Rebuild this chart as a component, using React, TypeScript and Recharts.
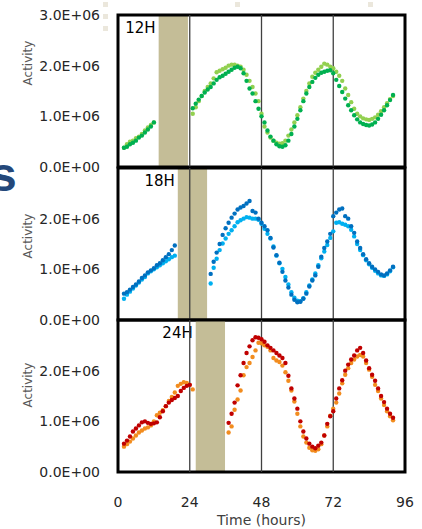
import React from "react";
import { ScatterChart, Scatter, XAxis, YAxis, ReferenceArea, ReferenceLine } from "recharts";

// sampling times (hours)
const hoursFrom = (start: number, count: number) => Array.from({ length: count }, (_, i) => start + i);
const HOUR_TICKS = [0, 24, 48, 72, 96];

// activity values, in units of 1.0E+06
// 12H panel
const DARK_12_EARLY = [0.38, 0.40, 0.45, 0.48, 0.52, 0.58, 0.62, 0.68, 0.74, 0.80, 0.88];
const LIGHT_12_EARLY = [0.38, 0.45, 0.50, 0.52, 0.57, 0.60, 0.65, 0.72, 0.78, 0.83, 0.88];
const DARK_12_LATE = [
  1.16, 1.25, 1.33, 1.40, 1.47, 1.53, 1.58, 1.65, 1.72, 1.77,
  1.80, 1.84, 1.88, 1.92, 1.96, 1.98, 1.95, 1.85, 1.70, 1.55,
  1.45, 1.30, 1.15, 1.00, 0.88, 0.72, 0.60, 0.52, 0.45, 0.41,
  0.40, 0.43, 0.52, 0.65, 0.80, 0.95, 1.12, 1.30, 1.45, 1.58,
  1.68, 1.76, 1.82, 1.86, 1.88, 1.90, 1.91, 1.85, 1.72, 1.60,
  1.48, 1.35, 1.22, 1.12, 1.02, 0.94, 0.88, 0.85, 0.83, 0.82,
  0.84, 0.88, 0.95, 1.03, 1.12, 1.22, 1.32, 1.42,
];
const LIGHT_12_LATE = [
  1.05, 1.18, 1.30, 1.40, 1.50, 1.58, 1.65, 1.75, 1.87, 1.90,
  1.93, 1.96, 2.00, 2.02, 2.02, 2.00, 1.98, 1.92, 1.82, 1.70,
  1.58, 1.45, 1.30, 1.05, 0.80, 0.68, 0.58, 0.52, 0.48, 0.46,
  0.47, 0.52, 0.62, 0.74, 0.88, 1.02, 1.18, 1.35, 1.50, 1.65,
  1.78, 1.86, 1.92, 1.98, 2.04, 2.02, 1.98, 1.95, 1.88, 1.80,
  1.70, 1.55, 1.42, 1.28, 1.15, 1.05, 1.00, 0.96, 0.94, 0.93,
  0.95, 0.98, 1.03, 1.10, 1.18, 1.26, 1.34, 1.40,
];

// 18H panel
const DARK_18_EARLY = [0.52, 0.55, 0.60, 0.65, 0.70, 0.76, 0.83, 0.88, 0.94, 0.98, 1.02, 1.08, 1.12, 1.18, 1.24, 1.30, 1.38, 1.47];
const LIGHT_18_EARLY = [0.42, 0.50, 0.56, 0.62, 0.68, 0.74, 0.80, 0.85, 0.92, 0.96, 1.00, 1.04, 1.08, 1.12, 1.16, 1.20, 1.24, 1.27];
const DARK_18_LATE = [
  0.91, 1.15, 1.33, 1.50, 1.68, 1.81, 1.92, 2.02, 2.10, 2.18,
  2.22, 2.25, 2.30, 2.35, 2.15, 2.12, 2.00, 1.92, 1.85, 1.77,
  1.62, 1.43, 1.28, 1.13, 0.95, 0.78, 0.64, 0.50, 0.40, 0.35,
  0.36, 0.42, 0.52, 0.66, 0.78, 0.88, 1.05, 1.25, 1.42, 1.55,
  1.70, 2.05, 2.12, 2.18, 2.20, 2.05, 2.00, 1.85, 1.72, 1.55,
  1.42, 1.30, 1.20, 1.12, 1.05, 1.00, 0.95, 0.90, 0.88, 0.92,
  0.98, 1.05,
];
const LIGHT_18_LATE = [
  0.72, 1.03, 1.21, 1.38, 1.51, 1.61, 1.70, 1.77, 1.85, 1.93,
  1.97, 2.00, 2.03, 2.02, 2.00, 2.00, 1.98, 1.90, 1.80, 1.70,
  1.61, 1.45, 1.27, 1.12, 1.01, 0.85, 0.70, 0.55, 0.44, 0.38,
  0.37, 0.43, 0.55, 0.68, 0.80, 0.92, 1.08, 1.22, 1.35, 1.48,
  1.62, 1.75, 1.92, 1.93, 1.90, 1.88, 1.85, 1.78, 1.65, 1.50,
  1.38, 1.28, 1.18, 1.10, 1.03, 0.97, 0.92, 0.88, 0.87, 0.90,
  0.96, 1.04,
];

// 24H panel
const DARK_24_EARLY = [
  0.56, 0.62, 0.70, 0.80, 0.86, 0.92, 0.98, 1.00, 0.97, 0.95,
  0.96, 0.98, 1.08, 1.20, 1.30, 1.37, 1.42, 1.46, 1.50, 1.60,
  1.66, 1.70, 1.72,
];
const LIGHT_24_EARLY = [
  0.50, 0.55, 0.60, 0.66, 0.72, 0.78, 0.82, 0.86, 0.88, 0.92,
  1.00, 1.12, 1.17, 1.22, 1.30, 1.40, 1.48, 1.57, 1.70, 1.74,
  1.77, 1.76, 1.72, 1.63,
];
const DARK_24_LATE = [
  0.97, 1.15, 1.37, 1.71, 1.91, 2.15, 2.35, 2.48, 2.60, 2.66,
  2.65, 2.62, 2.57, 2.50, 2.45, 2.40, 2.35, 2.30, 2.25, 2.15,
  1.90, 1.65, 1.45, 1.25, 1.00, 0.80, 0.66, 0.56, 0.50, 0.47,
  0.52, 0.58, 0.72, 0.95, 1.10, 1.20, 1.45, 1.65, 1.81, 2.00,
  2.12, 2.22, 2.30, 2.40, 2.45, 2.35, 2.20, 2.05, 1.92, 1.80,
  1.65, 1.50, 1.38, 1.25, 1.15, 1.07,
];
const LIGHT_24_LATE = [
  0.78, 0.90, 1.23, 1.43, 1.61, 1.91, 2.07, 2.15, 2.27, 2.40,
  2.55, 2.54, 2.50, 2.47, 2.40, 2.25, 2.20, 2.17, 2.10, 1.97,
  1.80, 1.61, 1.39, 1.15, 0.90, 0.70, 0.58, 0.48, 0.43, 0.42,
  0.45, 0.55, 0.72, 0.90, 1.11, 1.25, 1.37, 1.55, 1.75, 1.92,
  2.05, 2.15, 2.22, 2.28, 2.31, 2.28, 2.15, 2.02, 1.88, 1.72,
  1.60, 1.45, 1.32, 1.20, 1.10, 1.02,
];

const toPoints = (start: number, values: number[]) =>
  hoursFrom(start, values.length).map((t, i) => ({ t, v: values[i] }));

const fmt = (v: number) => (v === 0 ? "0.0E+00" : `${v.toFixed(1)}E+06`);

const dot = (color: string) => (props: any) => (
  <circle cx={props.cx} cy={props.cy} r={2.2} fill={color} />
);

const activityLabel = (shift: number) => (props: any) => {
  const vb = props.viewBox;
  const cy = vb.y + vb.height / 2 + shift;
  return (
    <text x={32} y={cy} transform={`rotate(-90 32 ${cy})`} textAnchor="middle" fill="#595959" fontSize={12}>
      Activity
    </text>
  );
};

const bandLabel = (text: string) => (props: any) => {
  const vb = props.viewBox;
  return (
    <text x={vb.x - 3} y={vb.y + 18} textAnchor="end" fill="#000" fontSize={15}>
      {text}
    </text>
  );
};

const panels = [
  {
    name: "12H", top: 0, height: 180, mt: 15, mb: 13, band: [13.6, 23.4], lines: [24, 48, 72],
    yTicks: [0, 1, 2, 3], shift: -28, showX: false, darkColor: "#00B050", lightColor: "#92D050",
    dark: [...toPoints(2, DARK_12_EARLY), ...toPoints(25, DARK_12_LATE)],
    light: [...toPoints(2, LIGHT_12_EARLY), ...toPoints(25, LIGHT_12_LATE)],
  },
  {
    name: "18H", top: 160, height: 170, mt: 8, mb: 10, band: [20, 29.8], lines: [24, 48, 72],
    yTicks: [0, 1, 2], shift: -8, showX: false, darkColor: "#0070C0", lightColor: "#00B0F0",
    dark: [...toPoints(2, DARK_18_EARLY), ...toPoints(31, DARK_18_LATE)],
    light: [...toPoints(2, LIGHT_18_EARLY), ...toPoints(31, LIGHT_18_LATE)],
  },
  {
    name: "24H", top: 310, height: 219, mt: 10, mb: 0, band: [26, 35.8], lines: [24, 48, 72],
    yTicks: [0, 1, 2], shift: -11, showX: true, darkColor: "#C00000", lightColor: "#F28C1E",
    dark: [...toPoints(2, DARK_24_EARLY), ...toPoints(37, DARK_24_LATE)],
    light: [...toPoints(2, LIGHT_24_EARLY), ...toPoints(37, LIGHT_24_LATE)],
  },
];

const App = () => {
  return (
    <div style={{ position: "absolute", left: 0, top: 0, width: 422, height: 529, background: "#fff", fontFamily: "DejaVu Sans", overflow: "hidden" }}>
      {[[103, 2], [103, 14], [103, 26], [235, 2], [368, 2]].map(([x, y]) => (
        <div key={`${x}-${y}`} style={{ position: "absolute", left: x, top: y, width: 5, height: 5, background: "#EBE7DC" }} />
      ))}
      <div style={{ position: "absolute", left: -10, top: 151, fontFamily: "Liberation Sans", fontWeight: "bold", fontSize: 48, lineHeight: "48px", color: "#24487A" }}>
        s
      </div>
      {panels.map((p) => (
        <div key={p.name} style={{ position: "absolute", left: 0, top: p.top }}>
          <ScatterChart width={422} height={p.height} margin={{ top: p.mt, right: 17, bottom: p.mb, left: 0 }}>
            <XAxis
              type="number"
              dataKey="t"
              domain={[0, 96]}
              ticks={HOUR_TICKS}
              interval={0}
              hide={!p.showX}
              height={57}
              tickSize={0}
              tickMargin={25}
              axisLine={false}
              tick={{ fill: "#262626", fontSize: 14 }}
              label={{ value: "Time (hours)", position: "insideBottom", offset: 4, fill: "#404040", fontSize: 14 }}
            />
            <YAxis
              type="number"
              dataKey="v"
              domain={[0, 3]}
              ticks={p.yTicks}
              interval={0}
              width={118}
              tickSize={0}
              tickMargin={18}
              axisLine={false}
              tickFormatter={fmt}
              tick={{ fill: "#262626", fontSize: 14 }}
              label={activityLabel(p.shift)}
            />
            {p.lines.map((x) => (
              <ReferenceLine key={x} x={x} stroke="#404040" strokeWidth={1.3} />
            ))}
            <ReferenceArea x1={p.band[0]} x2={p.band[1]} y1={0} y2={3} fill="#C4BD97" fillOpacity={1} stroke="none" label={bandLabel(p.name)} />
            <Scatter data={p.light} shape={dot(p.lightColor)} isAnimationActive={false} />
            <Scatter data={p.dark} shape={dot(p.darkColor)} isAnimationActive={false} />
            <ReferenceArea x1={0} x2={96} y1={0} y2={3} fill="none" fillOpacity={0} stroke="#000" strokeWidth={3} />
          </ScatterChart>
        </div>
      ))}
    </div>
  );
};

export default App;
